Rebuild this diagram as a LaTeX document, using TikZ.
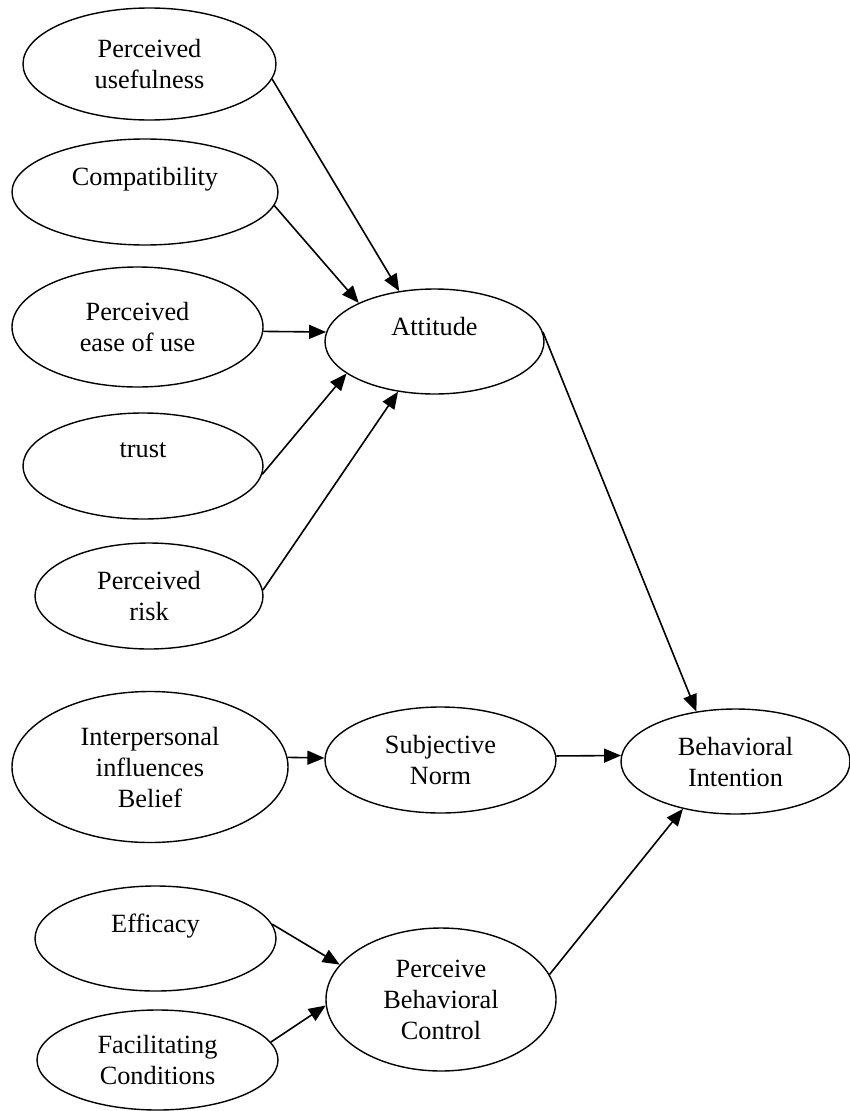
\documentclass[tikz,border=0pt]{standalone}
\usepackage{fontspec}
\setmainfont{Liberation Serif}
\usetikzlibrary{shapes.geometric,arrows.meta}
\begin{document}
\begin{tikzpicture}[x=1pt,y=-1pt,
  ell/.style={draw, ellipse, line width=1.4pt, inner sep=0pt, align=center,
              font=\fontsize{26.3}{31}\selectfont},
  arr/.style={-{Triangle[length=17pt,width=14pt]}, line width=1.6pt}]
\useasboundingbox (0,0) rectangle (850,1111);
\node[ell, minimum width=253pt, minimum height=112pt] (pu)  at (149.5,64)   {Perceived\\usefulness};
\node[ell, minimum width=266pt, minimum height=106pt] (cp)  at (145,192)    {Compatibility\\\phantom{X}};
\node[ell, minimum width=251pt, minimum height=120pt] (eu)  at (137.5,327)  {Perceived\\ease of use};
\node[ell, minimum width=240pt, minimum height=106pt] (tr)  at (143,466)    {trust\\\phantom{X}};
\node[ell, minimum width=228pt, minimum height=106pt] (rk)  at (149,596)    {Perceived\\risk};
\node[ell, minimum width=219pt, minimum height=105pt] (att) at (434.5,341.5){Attitude\\\phantom{X}};
\node[ell, minimum width=276pt, minimum height=151pt] (iib) at (150,767)    {Interpersonal\\influences\\Belief};
\node[ell, minimum width=231pt, minimum height=106pt] (sn)  at (440.5,760)  {Subjective\\Norm};
\node[ell, minimum width=229pt, minimum height=105pt] (bi)  at (735.5,761.5){Behavioral\\Intention};
\node[ell, minimum width=241pt, minimum height=105pt] (ef)  at (155.5,938.5){Efficacy\\\phantom{X}};
\node[ell, minimum width=241pt, minimum height=100pt] (fc)  at (157.5,1060) {Facilitating\\Conditions};
\node[ell, minimum width=230pt, minimum height=143pt] (pbc) at (441,999.5)  {Perceive\\Behavioral\\Control};

\draw[arr] (pu.-7.3) -- (att.125.5);
\draw[arr] (cp.-6.6) -- (att.153.6);
\draw[arr] (eu.-2.3) -- (att.175);
\draw[arr] (tr.-4.3) -- (att.200);
\draw[arr] (rk.3) -- (att.234.5);
\draw[arr] (att.5) -- (bi.128.5);
\draw[arr] (iib.4.6) -- (sn.179);
\draw[arr] (sn.2) -- (bi.177.2);
\draw[arr] (ef.7.3) -- (pbc.161.6);
\draw[arr] (fc.9) -- (pbc.183.5);
\draw[arr] (pbc.13) -- (bi.222);
\end{tikzpicture}
\end{document}
